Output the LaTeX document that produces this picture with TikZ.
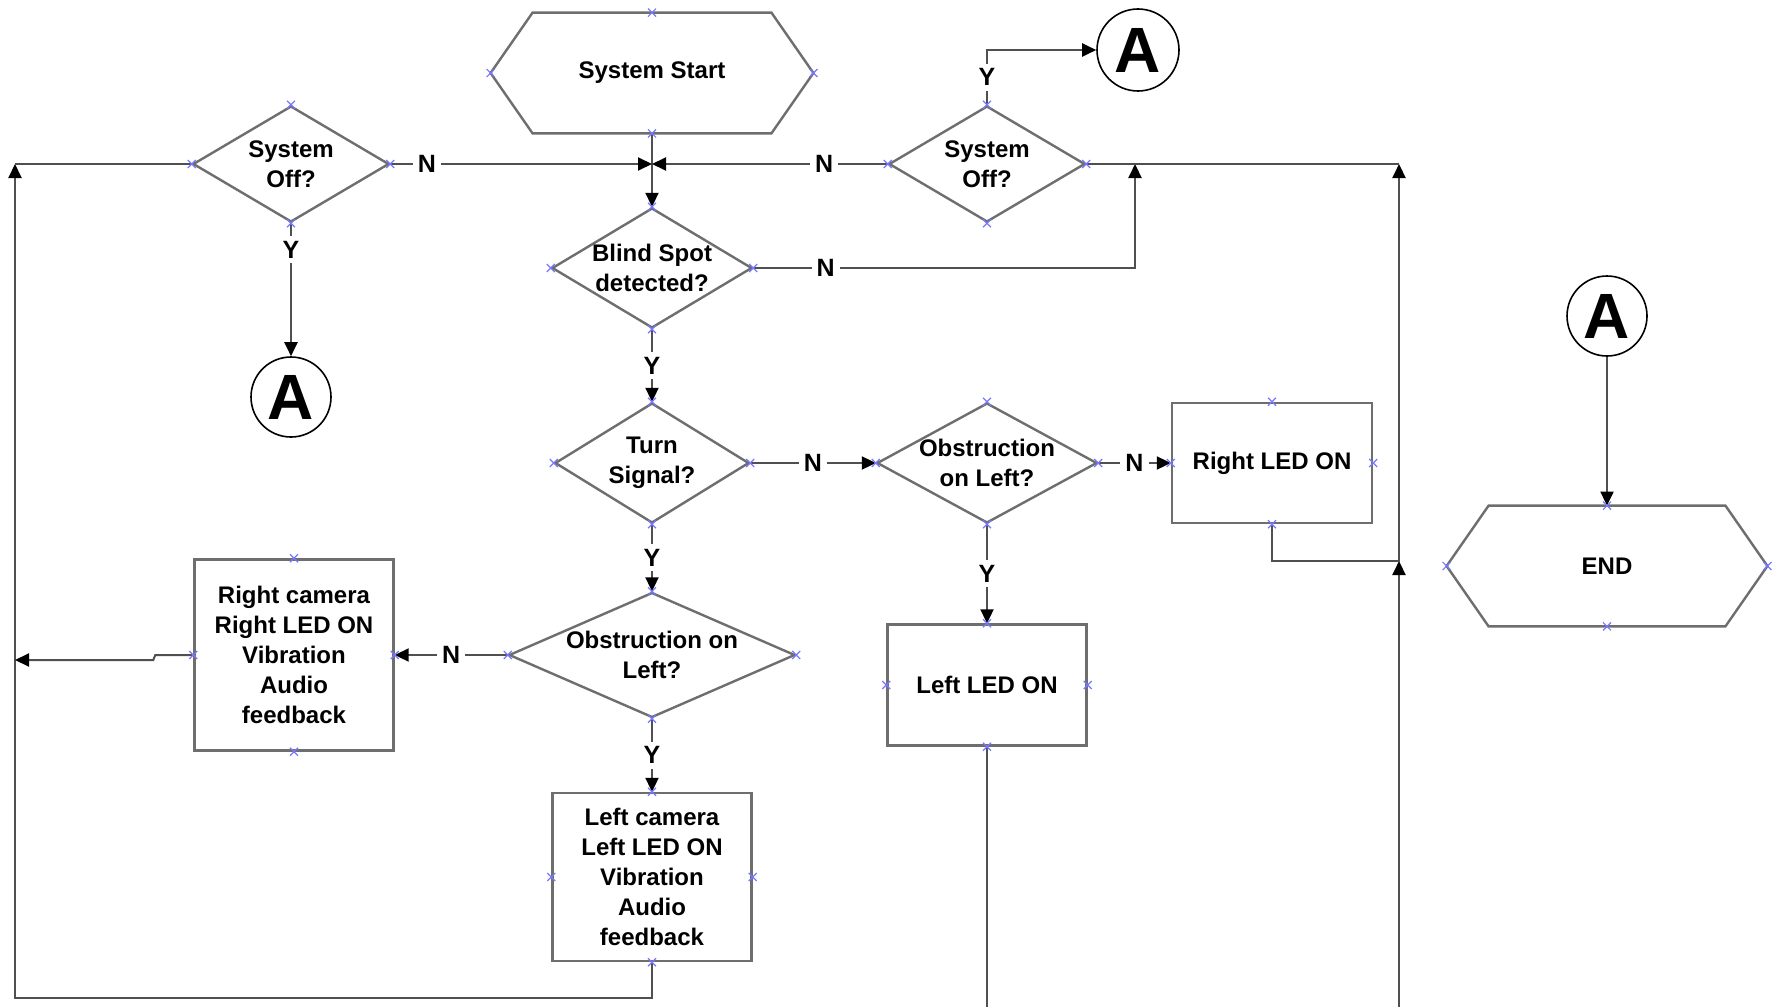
\documentclass[tikz,border=0pt]{standalone}
\usepackage{fontspec}
\setmainfont{Liberation Sans}
\usepackage{xcolor}
\usepackage{tikz}
\usetikzlibrary{shapes.geometric,arrows.meta}
\definecolor{grayline}{RGB}{110,110,110}
\definecolor{darkline}{RGB}{80,80,80}
\definecolor{pinblue}{RGB}{120,120,255}
\newcommand{\nodefont}{\bfseries\fontsize{12}{15}\selectfont}
\newcommand{\drawhexa}[1]{\draw[grayline, line width=1.2pt] ([xshift=21pt]#1.north west) -- ([xshift=-21pt]#1.north east) -- (#1.east) -- ([xshift=-21pt]#1.south east) -- ([xshift=21pt]#1.south west) -- (#1.west) -- cycle;}

\begin{document}
\begin{tikzpicture}[x=0.5pt, y=-0.5pt,
					box/.style ={rectangle, draw=grayline, line width=1.2pt,
						align=center, font=\nodefont, inner sep=2pt},
					decision/.style ={diamond, draw=grayline, line width=1.2pt,
						inner sep=0pt, label={[dtext]center:#1}},
					dtext/.style ={align=center, font=\nodefont, inner sep=0pt},
					terminal/.style ={rectangle, inner sep=0pt, font=\nodefont},
					connector/.style ={circle, draw=black, line width=0.8pt, inner sep=0pt,
						minimum size=40pt, font=\bfseries\fontsize{32}{32}\selectfont},
					flow/.style ={draw=darkline, line width=1pt,
						-{Triangle[length=7pt,width=6.5pt,color=black]}},
					line/.style ={draw=darkline, line width=1pt},
					yn/.style ={fill=white, inner sep=2.5pt, font=\bfseries\fontsize{12.5}{12.5}\selectfont},
					pinx/.style ={draw=pinblue, line width=0.6pt}]
	\useasboundingbox (0,0) rectangle (1776,1006);
	\clip (0,0) rectangle (1776,1006);
	\fill[white] (0,0) rectangle (1776,1006);

	\node[terminal, minimum width=161pt, minimum height=60pt] (start) at (652,73) {System Start};
	\node[terminal, minimum width=160pt, minimum height=60pt] (endn) at (1607,566) {END};
	\drawhexa{start}
	\drawhexa{endn}

	\node[decision={System\\Off?}, minimum width=98pt, minimum height=58pt] (off1) at (291,164) {};
	\node[decision={System\\Off?}, minimum width=98pt, minimum height=58pt] (off2) at (987,164) {};
	\node[decision={Blind Spot\\detected?}, minimum width=100pt, minimum height=60pt] (blind) at (652,268) {};
	\node[decision={Turn\\Signal?}, minimum width=97pt, minimum height=60pt] (turn) at (652,463) {};
	\node[decision={Obstruction\\on Left?}, minimum width=110pt, minimum height=60pt] (obsr) at (987,463) {};
	\node[decision={Obstruction on\\Left?}, minimum width=143pt, minimum height=62.5pt] (obsc) at (652,655) {};

	\node[box, minimum width=100pt, minimum height=60pt] (rled) at (1272,463) {Right LED ON};
	\node[box, minimum width=99.5pt, minimum height=60.5pt] (lled) at (987,685) {Left LED ON};
	\node[box, minimum width=99.5pt, minimum height=95.5pt] (rcam) at (294,655)
		{Right camera\\Right LED ON\\Vibration\\Audio\\feedback};
	\node[box, minimum width=99.5pt, minimum height=84pt] (lcam) at (652,877)
		{Left camera\\Left LED ON\\Vibration\\Audio\\feedback};

	\node[connector, minimum size=41pt] (conA1) at (1138,50) {A};
	\node[connector] (conA2) at (291,397) {A};
	\node[connector] (conA3) at (1607,316) {A};

	\coordinate (jn) at (652,164);
	\coordinate (ya) at (987,50);
	\coordinate (bn) at (1135,268);
	\coordinate (bt) at (1135,164);
	\coordinate (rb) at (1399,1016);
	\coordinate (rj) at (1399,561);
	\coordinate (rt) at (1399,164);
	\coordinate (lb) at (15,998);
	\coordinate (lt) at (15,164);
	\coordinate (lm) at (15,660);

	\draw[flow] (start.south) -- (blind.north);
	\draw[flow] (off1.east) -- node[yn, pos=0.14] (n1) {N} (jn);
	\draw[flow] (off2.west) -- node[yn, pos=0.27] (n2) {N} (jn);
	\draw[flow] (off1.south) -- node[yn, pos=0.2] (y1) {Y} (conA2.north);
	\draw[flow] (off2.north) -- node[yn] (y2) {Y} (ya) -- (conA1.west);
	\draw[flow] (blind.east) -- node[yn, pos=0.19] (n3) {N} (bn) -- (bt);
	\draw[flow] (blind.south) -- node[yn] (y3) {Y} (turn.north);
	\draw[flow] (turn.east) -- node[yn] (n4) {N} (obsr.west);
	\draw[flow] (turn.south) -- node[yn] (y4) {Y} (obsc.north);
	\draw[flow] (obsr.east) -- node[yn] (n5) {N} (rled.west);
	\draw[flow] (obsr.south) -- node[yn] (y5) {Y} (lled.north);
	\draw[flow] (obsc.west) -- node[yn] (n6) {N} (rcam.east);
	\draw[flow] (obsc.south) -- node[yn] (y6) {Y} (lcam.north);
	\draw[flow] (conA3.south) -- (endn.north);

	\draw[flow] (lled.south) |- (rb) -- (rj);
	\draw[flow] (rled.south) |- (rj) -- (rt);
	\draw[line] (rt) -- (off2.east);
	\draw[flow] (lcam.south) |- (lb) -- (lt);
	\draw[line] (lt) -- (off1.west);
	\draw[flow] (rcam.west) -- ++(-38,0) -- ++(-2,5) -- (lm);

	\foreach \n in {start,endn,off1,off2,blind,turn,obsr,obsc,rled,lled,rcam,lcam}
		\foreach \a in {north,south,east,west}
			\draw[pinx] (\n.\a) +(-2pt,-2pt) -- +(2pt,2pt) +(-2pt,2pt) -- +(2pt,-2pt);
\end{tikzpicture}
\end{document}
